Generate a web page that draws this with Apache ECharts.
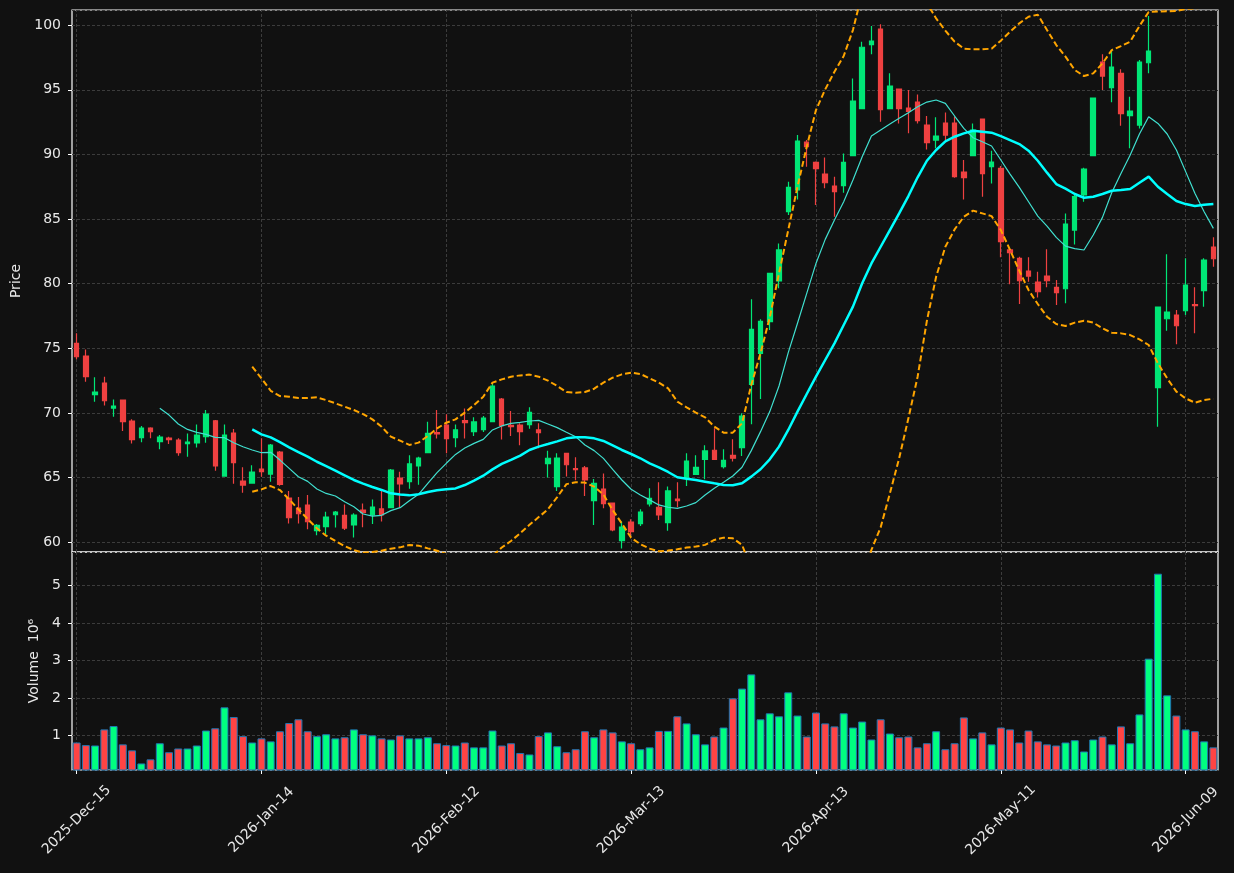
<!DOCTYPE html>
<html>
<head>
<meta charset="utf-8">
<script src="https://cdn.jsdelivr.net/npm/echarts@6/dist/echarts.min.js"></script>
<style>
  html, body { margin: 0; padding: 0; background: #111111; }
  #chart { width: 1234px; height: 873px; }
</style>
</head>
<body>
<div id="chart"></div>
<script>
// trading days shown on the x axis
var dates = [
  '2025-Dec-15','2025-Dec-16','2025-Dec-17','2025-Dec-18','2025-Dec-19','2025-Dec-22','2025-Dec-23','2025-Dec-24','2025-Dec-26','2025-Dec-29',
  '2025-Dec-30','2025-Dec-31','2026-Jan-02','2026-Jan-05','2026-Jan-06','2026-Jan-07','2026-Jan-08','2026-Jan-09','2026-Jan-12','2026-Jan-13',
  '2026-Jan-14','2026-Jan-15','2026-Jan-16','2026-Jan-20','2026-Jan-21','2026-Jan-22','2026-Jan-23','2026-Jan-26','2026-Jan-27','2026-Jan-28',
  '2026-Jan-29','2026-Jan-30','2026-Feb-02','2026-Feb-03','2026-Feb-04','2026-Feb-05','2026-Feb-06','2026-Feb-09','2026-Feb-10','2026-Feb-11',
  '2026-Feb-12','2026-Feb-13','2026-Feb-17','2026-Feb-18','2026-Feb-19','2026-Feb-20','2026-Feb-23','2026-Feb-24','2026-Feb-25','2026-Feb-26',
  '2026-Feb-27','2026-Mar-02','2026-Mar-03','2026-Mar-04','2026-Mar-05','2026-Mar-06','2026-Mar-09','2026-Mar-10','2026-Mar-11','2026-Mar-12',
  '2026-Mar-13','2026-Mar-16','2026-Mar-17','2026-Mar-18','2026-Mar-19','2026-Mar-20','2026-Mar-23','2026-Mar-24','2026-Mar-25','2026-Mar-26',
  '2026-Mar-27','2026-Mar-30','2026-Mar-31','2026-Apr-01','2026-Apr-02','2026-Apr-06','2026-Apr-07','2026-Apr-08','2026-Apr-09','2026-Apr-10',
  '2026-Apr-13','2026-Apr-14','2026-Apr-15','2026-Apr-16','2026-Apr-17','2026-Apr-20','2026-Apr-21','2026-Apr-22','2026-Apr-23','2026-Apr-24',
  '2026-Apr-27','2026-Apr-28','2026-Apr-29','2026-Apr-30','2026-May-01','2026-May-04','2026-May-05','2026-May-06','2026-May-07','2026-May-08',
  '2026-May-11','2026-May-12','2026-May-13','2026-May-14','2026-May-15','2026-May-18','2026-May-19','2026-May-20','2026-May-21','2026-May-22',
  '2026-May-26','2026-May-27','2026-May-28','2026-May-29','2026-Jun-01','2026-Jun-02','2026-Jun-03','2026-Jun-04','2026-Jun-05','2026-Jun-08',
  '2026-Jun-09','2026-Jun-10','2026-Jun-11','2026-Jun-12'
];

var opens = [
  75.39,74.41,71.42,72.32,70.38,71.00,69.38,68.09,68.84,67.78,
  68.06,67.91,67.63,67.68,68.17,69.40,65.12,68.45,64.74,64.58,
  65.67,65.28,66.98,63.42,62.65,62.88,60.90,61.21,62.13,62.08,
  61.34,62.50,62.11,62.58,62.68,64.97,64.69,65.90,66.93,68.48,
  69.07,68.09,69.41,68.56,68.71,69.33,71.08,69.05,69.07,69.10,
  68.69,66.08,64.30,66.88,65.70,65.75,63.22,64.12,63.04,60.13,
  61.57,61.44,62.97,62.71,61.52,63.35,64.95,65.26,66.42,67.12,
  65.85,66.73,67.32,72.22,74.62,77.07,80.21,85.57,87.25,90.96,
  89.39,88.48,87.55,87.58,89.90,93.54,98.49,99.70,93.54,95.06,
  93.59,94.05,92.27,91.11,92.43,92.43,88.64,89.90,92.74,89.05,
  88.92,82.61,81.96,80.98,80.13,80.59,79.72,79.61,84.15,86.86,
  89.90,97.14,95.16,96.27,93.00,92.27,97.09,71.96,77.29,77.58,
  77.91,78.38,79.46,82.84
];
var closes = [
  74.35,72.81,71.62,70.95,70.54,69.33,67.94,68.84,68.55,68.14,
  67.94,66.93,67.75,68.30,69.92,65.90,68.30,66.16,64.43,65.43,
  65.46,67.52,64.48,61.90,62.21,61.59,61.31,61.95,62.34,61.10,
  62.11,62.29,62.73,62.11,65.59,64.51,66.06,66.52,68.43,68.38,
  68.02,68.69,69.25,69.31,69.61,72.09,69.02,68.94,68.56,70.05,
  68.48,66.50,66.52,66.00,65.62,64.82,64.56,62.99,60.95,61.18,
  60.82,62.34,63.40,62.12,63.97,63.22,66.29,65.80,67.07,66.42,
  66.34,66.50,69.77,76.47,77.09,80.80,82.61,87.45,91.03,90.60,
  88.90,87.81,87.12,89.39,94.13,98.29,98.77,93.46,95.29,93.54,
  93.33,92.61,90.91,91.42,91.50,88.28,88.20,91.89,88.51,89.41,
  83.25,82.40,80.23,80.59,79.38,80.23,79.31,84.62,86.73,88.87,
  94.36,96.06,96.76,93.15,93.36,97.14,97.99,78.20,77.81,76.75,
  79.90,78.30,81.83,81.93
];
var lows = [
  74.15,72.42,70.87,70.59,69.71,68.61,67.65,67.73,68.04,67.19,
  67.60,66.70,66.62,67.34,67.70,65.54,65.12,64.53,63.84,64.58,
  65.07,64.69,64.38,61.46,61.46,61.00,60.54,60.64,61.15,60.95,
  60.38,61.16,61.42,61.60,62.68,62.68,64.15,64.46,66.93,68.02,
  66.88,67.35,68.02,68.22,68.53,69.33,67.96,68.22,67.50,68.79,
  67.27,65.02,63.97,65.08,64.79,63.58,61.34,62.63,60.85,59.53,
  60.44,61.26,62.76,61.73,60.90,62.71,64.36,65.21,64.87,66.42,
  65.70,66.24,66.68,69.13,71.09,76.42,79.64,85.31,86.52,89.05,
  86.09,87.38,85.18,87.04,89.90,93.54,97.74,92.53,93.54,92.40,
  91.63,92.40,90.39,90.47,91.11,88.20,86.52,89.90,86.73,87.76,
  82.04,79.95,78.43,80.16,78.94,79.72,78.35,78.48,83.04,86.34,
  89.90,94.98,94.03,92.22,90.47,92.01,96.27,68.94,76.37,75.31,
  77.58,76.16,78.22,81.32
];
var highs = [
  76.16,74.92,72.76,72.81,71.05,71.05,69.51,68.99,68.89,68.30,
  68.17,68.04,68.42,69.12,70.23,69.46,69.12,68.76,65.80,65.95,
  68.04,67.60,67.06,63.96,63.50,63.66,61.41,62.37,62.42,62.93,
  62.24,63.01,63.32,64.12,65.67,65.46,66.73,66.62,69.33,70.23,
  69.90,69.12,70.34,69.67,69.77,72.30,71.16,70.16,69.20,70.44,
  69.20,67.09,66.88,66.88,66.57,65.90,64.90,65.33,63.04,61.60,
  61.78,62.55,64.18,64.64,64.31,64.64,66.88,66.73,67.50,68.82,
  67.19,67.97,69.98,78.79,77.25,80.85,83.12,87.89,91.50,91.11,
  89.45,89.77,88.28,90.08,95.88,98.72,99.93,100.06,96.27,95.10,
  94.98,94.64,92.97,92.87,93.25,92.92,89.57,92.40,92.78,90.29,
  89.10,82.66,82.09,82.04,80.93,82.66,80.28,85.44,87.04,88.97,
  94.40,97.74,98.07,96.58,94.46,97.30,100.70,78.20,82.27,77.96,
  81.96,79.72,81.96,83.59
];
// volume in millions
var volumes = [
  0.81,0.74,0.73,1.16,1.25,0.76,0.60,0.25,0.36,0.79,
  0.55,0.65,0.65,0.73,1.13,1.19,1.75,1.49,0.98,0.81,
  0.92,0.84,1.11,1.33,1.43,1.11,0.98,1.03,0.92,0.95,
  1.16,1.03,1.00,0.92,0.89,1.00,0.92,0.92,0.95,0.79,
  0.74,0.73,0.81,0.68,0.68,1.13,0.73,0.79,0.53,0.49,
  0.98,1.08,0.71,0.55,0.63,1.11,0.95,1.16,1.08,0.84,
  0.79,0.63,0.68,1.12,1.12,1.51,1.32,1.03,0.76,0.97,
  1.21,1.99,2.25,2.63,1.43,1.59,1.51,2.15,1.53,0.97,
  1.61,1.32,1.24,1.59,1.21,1.37,0.89,1.43,1.05,0.95,
  0.97,0.68,0.79,1.11,0.63,0.79,1.48,0.92,1.08,0.76,
  1.21,1.16,0.81,1.13,0.84,0.76,0.73,0.81,0.87,0.57,
  0.89,0.97,0.76,1.24,0.79,1.56,3.05,5.32,2.07,1.53,
  1.16,1.11,0.84,0.68
];

// 10-day average, first value at day index 9
var ma10Start = 9;
var ma10 = [
  70.36,69.84,69.15,68.73,68.50,68.35,68.12,68.09,67.70,67.39,
  67.14,66.93,66.96,66.36,65.72,65.07,64.71,64.12,63.78,63.58,
  63.14,62.75,62.19,62.03,62.09,62.45,62.68,63.22,63.71,64.56,
  65.39,66.11,66.80,67.29,67.65,67.96,68.69,69.00,69.20,69.28,
  69.38,69.43,69.15,68.87,68.51,68.17,67.53,67.09,66.49,65.64,
  64.82,64.10,63.66,63.28,62.89,62.71,62.63,62.81,63.07,63.66,
  64.18,64.64,65.13,65.80,67.09,68.56,70.11,72.09,74.67,76.94,
  79.25,81.57,83.43,84.93,86.34,88.02,89.82,91.42,91.89,92.35,
  92.79,93.23,93.69,94.05,94.21,93.95,92.97,92.01,91.29,90.98,
  90.65,89.57,88.48,87.45,86.34,85.23,84.46,83.58,82.91,82.71,
  82.61,83.77,85.13,87.04,88.53,89.95,91.58,92.92,92.40,91.58,
  90.34,88.67,86.99,85.57,84.28
];
// 20-day average and bands, first value at day index 19
var ma20Start = 19;
var ma20 = [
  68.73,68.35,68.12,67.75,67.34,66.98,66.62,66.23,65.90,65.54,
  65.18,64.82,64.54,64.28,64.05,63.79,63.69,63.63,63.71,63.89,
  64.02,64.10,64.17,64.43,64.77,65.15,65.64,66.06,66.37,66.70,
  67.14,67.40,67.60,67.81,68.04,68.12,68.12,68.04,67.84,67.50,
  67.14,66.83,66.50,66.11,65.80,65.44,65.03,64.92,64.82,64.69,
  64.56,64.44,64.41,64.56,65.08,65.65,66.42,67.40,68.69,70.11,
  71.47,72.81,74.10,75.39,76.81,78.23,80.03,81.57,82.86,84.15,
  85.44,86.78,88.23,89.51,90.34,91.01,91.37,91.63,91.83,91.76,
  91.68,91.42,91.11,90.80,90.29,89.51,88.59,87.71,87.35,86.94,
  86.65,86.73,86.94,87.19,87.25,87.32,87.81,88.28,87.50,86.94,
  86.40,86.16,86.01,86.11,86.16
];
var bbUpper = [
  73.58,72.68,71.72,71.31,71.26,71.16,71.16,71.21,71.00,70.75,
  70.49,70.23,69.92,69.51,68.94,68.17,67.86,67.53,67.71,68.22,
  68.81,69.25,69.51,70.03,70.62,71.26,72.35,72.60,72.81,72.91,
  72.97,72.81,72.50,72.09,71.62,71.57,71.62,71.88,72.35,72.73,
  72.99,73.12,73.02,72.68,72.35,71.91,70.88,70.44,70.03,69.67,
  68.95,68.48,68.48,69.20,72.17,74.62,77.40,80.80,84.15,87.50,
  90.60,93.43,95.03,96.40,97.61,99.62,102.5,103.7,104.5,104.5,
  104.4,104.0,103.4,101.7,100.52,99.57,98.72,98.18,98.13,98.13,
  98.18,98.80,99.49,100.14,100.65,100.81,99.62,98.46,97.56,96.53,
  96.06,96.27,97.04,98.07,98.38,98.72,99.93,101.02,101.05,101.07,
  101.10,101.25,101.30,101.35,101.40
];
var bbLower = [
  63.91,64.09,64.35,64.04,63.32,62.55,61.80,61.08,60.51,60.10,
  59.71,59.40,59.20,59.25,59.35,59.51,59.61,59.79,59.74,59.53,
  59.35,59.10,58.70,58.60,58.60,58.70,58.95,59.60,60.10,60.70,
  61.35,61.95,62.55,63.50,64.50,64.65,64.62,64.30,63.70,62.50,
  61.45,60.35,59.85,59.51,59.30,59.36,59.46,59.59,59.67,59.80,
  60.18,60.36,60.31,59.80,58.00,56.70,55.40,54.00,53.20,52.70,
  52.30,52.20,53.20,54.40,56.00,56.80,57.50,59.41,61.16,63.79,
  66.50,69.59,72.81,77.13,80.54,82.86,84.20,85.18,85.65,85.44,
  85.23,84.15,82.61,81.01,79.51,78.43,77.45,76.88,76.73,76.99,
  77.14,76.99,76.55,76.21,76.16,76.03,75.70,75.26,73.84,72.68,
  71.65,71.13,70.80,71.00,71.11
];

// dates that carry a label / vertical grid line
var labelDays = ['2025-Dec-15','2026-Jan-14','2026-Feb-12','2026-Mar-13','2026-Apr-13','2026-May-11','2026-Jun-09'];

var UP = '#00e676', DOWN = '#ef4141';
var UP_VOL = '#00ff80', DOWN_VOL = '#ff4444';
var TEXT = '#e8e8e8';
var FONT = 'DejaVu Sans';
var gridLine = { color: '#3c3c3c', type: [3, 2], width: 1 };

function pad(arr, start) {
  return new Array(start).fill(null).concat(arr);
}

var candles = dates.map(function (d, i) {
  return [opens[i], closes[i], lows[i], highs[i]];
});
var volBars = volumes.map(function (v, i) {
  return { value: v, itemStyle: { color: closes[i] >= opens[i] ? UP_VOL : DOWN_VOL } };
});

function vLines(xi, yi) {
  return {
    type: 'line', xAxisIndex: xi, yAxisIndex: yi, z: 1,
    data: new Array(dates.length).fill(null),
    silent: true,
    markLine: {
      silent: true, symbol: 'none', z: 1,
      label: { show: false },
      lineStyle: gridLine,
      data: labelDays.map(function (d) { return { xAxis: d }; })
    }
  };
}

function isWhole(v, step) {
  return Math.abs(v / step - Math.round(v / step)) < 1e-6;
}

var dom = document.getElementById('chart');
var chart = echarts.init(dom);

var option = {
  backgroundColor: '#111111',
  animation: false,
  textStyle: { fontFamily: FONT },
  grid: [
    { left: 72, top: 10, width: 1146, height: 542, show: true, borderColor: '#ffffff', borderWidth: 1.2 },
    { left: 72, top: 552, width: 1146, height: 218, show: true, borderColor: '#ffffff', borderWidth: 1.2 }
  ],
  xAxis: [
    {
      type: 'category', gridIndex: 0, data: dates, boundaryGap: true,
      axisLine: { show: false }, axisTick: { show: false },
      axisLabel: { show: false }, splitLine: { show: false }
    },
    {
      type: 'category', gridIndex: 1, data: dates, boundaryGap: true,
      axisLine: { show: false },
      axisTick: { show: true, interval: 19, alignWithLabel: true, length: 4, lineStyle: { color: '#ffffff' } },
      axisLabel: {
        interval: 19, rotate: 45, align: 'center', verticalAlign: 'middle', margin: 50,
        color: TEXT, fontSize: 14, fontFamily: FONT
      },
      splitLine: { show: false }
    }
  ],
  yAxis: [
    {
      type: 'value', gridIndex: 0, min: 59.25, max: 101.17, splitNumber: 8, scale: true,
      name: 'Price', nameLocation: 'middle', nameGap: 46, nameRotate: 90,
      nameTextStyle: { color: TEXT, fontSize: 14, fontFamily: FONT },
      axisLine: { show: false },
      axisTick: { show: true, length: 4, lineStyle: { color: '#ffffff' } },
      axisLabel: {
        color: TEXT, fontSize: 14, fontFamily: FONT, margin: 11,
        showMinLabel: false, showMaxLabel: false,
        formatter: function (v) { return isWhole(v, 5) ? String(v) : ''; }
      },
      splitLine: { show: true, lineStyle: gridLine }
    },
    {
      type: 'value', gridIndex: 1, min: 0.075, max: 5.9, splitNumber: 5, scale: true,
      name: 'Volume  10\u2076', nameLocation: 'middle', nameGap: 30, nameRotate: 90,
      nameTextStyle: { color: TEXT, fontSize: 14, fontFamily: FONT },
      axisLine: { show: false },
      axisTick: { show: true, length: 4, lineStyle: { color: '#ffffff' } },
      axisLabel: {
        color: TEXT, fontSize: 14, fontFamily: FONT, margin: 11,
        showMinLabel: false, showMaxLabel: false,
        formatter: function (v) { return isWhole(v, 1) ? String(v) : ''; }
      },
      splitLine: { show: true, lineStyle: gridLine }
    }
  ],
  series: [
    vLines(0, 0),
    vLines(1, 1),
    {
      name: 'OHLC', type: 'candlestick', xAxisIndex: 0, yAxisIndex: 0,
      data: candles, barWidth: '54%',
      itemStyle: { color: UP, color0: DOWN, borderColor: UP, borderColor0: DOWN, borderWidth: 1.2 }
    },
    {
      name: 'MA10', type: 'line', xAxisIndex: 0, yAxisIndex: 0,
      data: pad(ma10, ma10Start), symbol: 'none', z: 3,
      lineStyle: { color: '#40e0d0', width: 1.2 }
    },
    {
      name: 'MA20', type: 'line', xAxisIndex: 0, yAxisIndex: 0,
      data: pad(ma20, ma20Start), symbol: 'none', z: 3,
      lineStyle: { color: '#00ffff', width: 2.5 }
    },
    {
      name: 'BB Upper', type: 'line', xAxisIndex: 0, yAxisIndex: 0,
      data: pad(bbUpper, ma20Start), symbol: 'none', z: 3,
      lineStyle: { color: '#ffa500', width: 2, type: [6, 3] }
    },
    {
      name: 'BB Lower', type: 'line', xAxisIndex: 0, yAxisIndex: 0,
      data: pad(bbLower, ma20Start), symbol: 'none', z: 3,
      lineStyle: { color: '#ffa500', width: 2, type: [6, 3] }
    },
    {
      name: 'Volume', type: 'bar', xAxisIndex: 1, yAxisIndex: 1,
      data: volBars, barWidth: '86%',
      itemStyle: { borderColor: '#1f77b4', borderWidth: 1 }
    }
  ]
};

chart.setOption(option);
</script>
</body>
</html>
